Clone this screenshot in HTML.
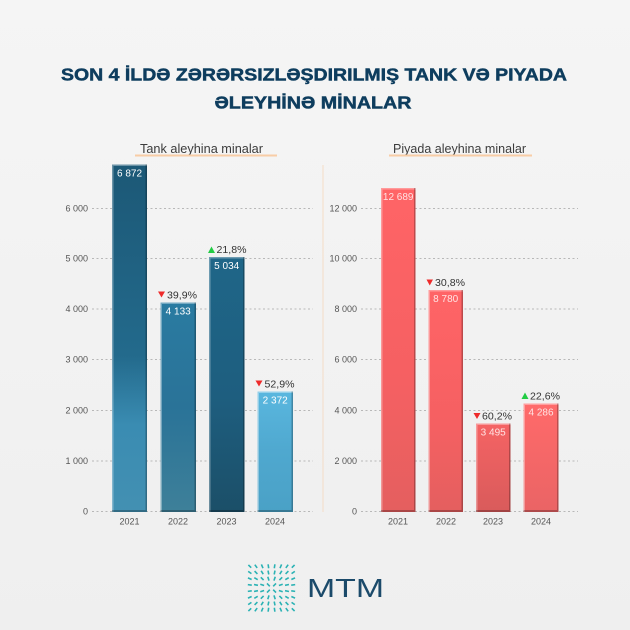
<!DOCTYPE html>
<html><head><meta charset="utf-8"><style>
html,body{margin:0;padding:0;background:#f2f2f2;}
svg{display:block;font-family:"Liberation Sans",sans-serif;}
</style></head><body>
<svg width="630" height="630" viewBox="0 0 630 630" xmlns="http://www.w3.org/2000/svg">
<defs>
<linearGradient id="bg" x1="0" y1="0" x2="0" y2="1"><stop offset="0" stop-color="#f5f5f5"/><stop offset="1" stop-color="#efefef"/></linearGradient>
<linearGradient id="b1" x1="0" y1="0" x2="0" y2="1"><stop offset="0" stop-color="#1c5876"/><stop offset="0.55" stop-color="#236a8c"/><stop offset="0.75" stop-color="#3a8cb2"/><stop offset="1" stop-color="#4390b2"/></linearGradient>
<linearGradient id="b2" x1="0" y1="0" x2="0" y2="1"><stop offset="0" stop-color="#2a7ba1"/><stop offset="0.5" stop-color="#2a7398"/><stop offset="1" stop-color="#3e8099"/></linearGradient>
<linearGradient id="b3" x1="0" y1="0" x2="0" y2="1"><stop offset="0" stop-color="#1f6688"/><stop offset="0.55" stop-color="#1e5e7f"/><stop offset="1" stop-color="#1b4f68"/></linearGradient>
<linearGradient id="b4" x1="0" y1="0" x2="0" y2="1"><stop offset="0" stop-color="#5ab7df"/><stop offset="0.5" stop-color="#4fa8cf"/><stop offset="1" stop-color="#4aa1c6"/></linearGradient>
<linearGradient id="r1" x1="0" y1="0" x2="0" y2="1"><stop offset="0" stop-color="#ff6466"/><stop offset="0.6" stop-color="#f56062"/><stop offset="1" stop-color="#e45f5f"/></linearGradient>
<linearGradient id="r3" x1="0" y1="0" x2="0" y2="1"><stop offset="0" stop-color="#f56364"/><stop offset="1" stop-color="#d95b5b"/></linearGradient>
<linearGradient id="r4" x1="0" y1="0" x2="0" y2="1"><stop offset="0" stop-color="#ff6a6a"/><stop offset="1" stop-color="#ea6465"/></linearGradient>
<g id="q" stroke="#2ab2b4" stroke-width="1.6" stroke-linecap="butt">
<line x1="1.69" y1="1.69" x2="4.51" y2="4.51"/>
<line x1="7.40" y1="2.47" x2="11.20" y2="3.73"/>
<line x1="13.54" y1="2.71" x2="17.46" y2="3.49"/>
<line x1="19.72" y1="2.82" x2="23.68" y2="3.38"/>
<line x1="2.47" y1="7.40" x2="3.73" y2="11.20"/>
<line x1="7.89" y1="7.89" x2="10.71" y2="10.71"/>
<line x1="13.79" y1="8.27" x2="17.21" y2="10.33"/>
<line x1="19.86" y1="8.51" x2="23.54" y2="10.09"/>
<line x1="2.71" y1="13.54" x2="3.49" y2="17.46"/>
<line x1="8.27" y1="13.79" x2="10.33" y2="17.21"/>
<line x1="14.09" y1="14.09" x2="16.91" y2="16.91"/>
<line x1="20.07" y1="14.34" x2="23.33" y2="16.66"/>
<line x1="2.82" y1="19.72" x2="3.38" y2="23.68"/>
<line x1="8.51" y1="19.86" x2="10.09" y2="23.54"/>
<line x1="14.34" y1="20.07" x2="16.66" y2="23.33"/>
<line x1="20.29" y1="20.29" x2="23.11" y2="23.11"/>
</g>
</defs>
<rect width="630" height="630" fill="url(#bg)"/>

<!-- Title -->
<g fill="#0e3d5e" stroke="#0e3d5e" stroke-width="0.5" font-weight="bold" font-size="17.5" text-anchor="middle">
<text x="314" y="80.5" textLength="506" lengthAdjust="spacingAndGlyphs">SON 4 İLDƏ ZƏRƏRSIZLƏŞDIRILMIŞ TANK VƏ PIYADA</text>
<text x="313" y="108.5" textLength="197" lengthAdjust="spacingAndGlyphs">ƏLEYHİNƏ MİNALAR</text>
</g>

<!-- Subtitles -->
<g fill="#3c3c3c" font-size="12.5">
<text x="140" y="153" textLength="123" lengthAdjust="spacingAndGlyphs">Tank aleyhina minalar</text>
<text x="393" y="153" textLength="133" lengthAdjust="spacingAndGlyphs">Piyada aleyhina minalar</text>
</g>
<rect x="135" y="154.5" width="142" height="2" fill="#f8cda6"/>
<rect x="389" y="154.5" width="143" height="2" fill="#f8cda6"/>

<!-- divider -->
<rect x="322.5" y="165" width="1" height="347" fill="#f4dcc6"/>

<!-- gridlines -->
<g stroke="#b8b8b8" stroke-width="1" stroke-dasharray="2 2.5">
<line x1="92" y1="208.5" x2="313" y2="208.5"/>
<line x1="92" y1="258.5" x2="313" y2="258.5"/>
<line x1="92" y1="309" x2="313" y2="309"/>
<line x1="92" y1="359.5" x2="313" y2="359.5"/>
<line x1="92" y1="410.5" x2="313" y2="410.5"/>
<line x1="92" y1="461" x2="313" y2="461"/>
<line x1="92" y1="511.5" x2="313" y2="511.5"/>
<line x1="361" y1="208.5" x2="578" y2="208.5"/>
<line x1="361" y1="258.5" x2="578" y2="258.5"/>
<line x1="361" y1="309" x2="578" y2="309"/>
<line x1="361" y1="359.5" x2="578" y2="359.5"/>
<line x1="361" y1="410.5" x2="578" y2="410.5"/>
<line x1="361" y1="461" x2="578" y2="461"/>
<line x1="361" y1="511.5" x2="578" y2="511.5"/>
</g>

<!-- axis labels -->
<g fill="#555" font-size="9" text-anchor="end">
<text x="88" y="211.5">6 000</text>
<text x="88" y="261.5">5 000</text>
<text x="88" y="312">4 000</text>
<text x="88" y="362.5">3 000</text>
<text x="88" y="413.5">2 000</text>
<text x="88" y="464">1 000</text>
<text x="88" y="514.5">0</text>
<text x="357" y="211.5">12 000</text>
<text x="357" y="261.5">10 000</text>
<text x="357" y="312">8 000</text>
<text x="357" y="362.5">6 000</text>
<text x="357" y="413.5">4 000</text>
<text x="357" y="464">2 000</text>
<text x="357" y="514.5">0</text>
</g>
<g fill="#555" font-size="9" text-anchor="middle">
<text x="129.5" y="524.5">2021</text>
<text x="178" y="524.5">2022</text>
<text x="226.5" y="524.5">2023</text>
<text x="275" y="524.5">2024</text>
<text x="398" y="524.5">2021</text>
<text x="446" y="524.5">2022</text>
<text x="493" y="524.5">2023</text>
<text x="541" y="524.5">2024</text>
</g>

<!-- left bars -->
<rect x="112" y="164.5" width="35" height="347.5" fill="url(#b1)"/>
<rect x="160.5" y="302.5" width="35.5" height="209.5" fill="url(#b2)"/>
<rect x="209" y="257" width="35.5" height="255" fill="url(#b3)"/>
<rect x="257.5" y="391.5" width="35.5" height="120.5" fill="url(#b4)"/>
<!-- right bars -->
<rect x="381" y="188" width="34.5" height="324" fill="url(#r1)"/>
<rect x="428.5" y="290" width="34.5" height="222" fill="url(#r1)"/>
<rect x="476" y="423.5" width="34.5" height="88.5" fill="url(#r3)"/>
<rect x="523.5" y="403.5" width="35" height="108.5" fill="url(#r4)"/>

<!-- bevels -->
<g fill="#ffffff" opacity="0.35">
<rect x="112" y="164.5" width="1.5" height="347.5"/><rect x="112" y="164.5" width="35" height="1.5"/>
<rect x="160.5" y="302.5" width="1.5" height="209.5"/><rect x="160.5" y="302.5" width="35.5" height="1.5"/>
<rect x="209" y="257" width="1.5" height="255"/><rect x="209" y="257" width="35.5" height="1.5"/>
<rect x="257.5" y="391.5" width="1.5" height="120.5"/><rect x="257.5" y="391.5" width="35.5" height="1.5"/>
<rect x="381" y="188" width="1.5" height="324"/><rect x="381" y="188" width="34.5" height="1.5"/>
<rect x="428.5" y="290" width="1.5" height="222"/><rect x="428.5" y="290" width="34.5" height="1.5"/>
<rect x="476" y="423.5" width="1.5" height="88.5"/><rect x="476" y="423.5" width="34.5" height="1.5"/>
<rect x="523.5" y="403.5" width="1.5" height="108.5"/><rect x="523.5" y="403.5" width="35" height="1.5"/>
</g>
<g fill="#000" opacity="0.25">
<rect x="145.5" y="164.5" width="1.5" height="347.5"/><rect x="112" y="510" width="35" height="2"/>
<rect x="194.5" y="302.5" width="1.5" height="209.5"/><rect x="160.5" y="510" width="35.5" height="2"/>
<rect x="243" y="257" width="1.5" height="255"/><rect x="209" y="510" width="35.5" height="2"/>
<rect x="291.5" y="391.5" width="1.5" height="120.5"/><rect x="257.5" y="510" width="35.5" height="2"/>
<rect x="414" y="188" width="1.5" height="324"/><rect x="381" y="510" width="34.5" height="2"/>
<rect x="461.5" y="290" width="1.5" height="222"/><rect x="428.5" y="510" width="34.5" height="2"/>
<rect x="509" y="423.5" width="1.5" height="88.5"/><rect x="476" y="510" width="34.5" height="2"/>
<rect x="557" y="403.5" width="1.5" height="108.5"/><rect x="523.5" y="510" width="35" height="2"/>
</g>

<!-- value labels -->
<g fill="#ffffff" font-size="10" text-anchor="middle">
<text x="129.5" y="176.5">6 872</text>
<text x="178.2" y="314.5">4 133</text>
<text x="226.7" y="269">5 034</text>
<text x="275.2" y="403.5">2 372</text>
</g>
<g fill="#ffe3e3" font-size="10" text-anchor="middle">
<text x="398.2" y="200">12 689</text>
<text x="445.7" y="302">8 780</text>
<text x="493.2" y="435.5">3 495</text>
<text x="541" y="415.5">4 286</text>
</g>

<!-- percent labels -->
<g fill="#333" font-size="10.5">
<text x="167" y="298.5" textLength="30" lengthAdjust="spacingAndGlyphs">39,9%</text>
<text x="216.5" y="253" textLength="30" lengthAdjust="spacingAndGlyphs">21,8%</text>
<text x="264.5" y="387.5" textLength="30" lengthAdjust="spacingAndGlyphs">52,9%</text>
<text x="435" y="286" textLength="30" lengthAdjust="spacingAndGlyphs">30,8%</text>
<text x="482" y="419.5" textLength="30" lengthAdjust="spacingAndGlyphs">60,2%</text>
<text x="530" y="399.5" textLength="30" lengthAdjust="spacingAndGlyphs">22,6%</text>
</g>
<g fill="#ee2b2b">
<polygon points="158,291.5 165,291.5 161.5,297.5"/>
<polygon points="255.5,380.5 262.5,380.5 259,386.5"/>
<polygon points="426.5,279.5 433,279.5 429.75,285.5"/>
<polygon points="473.5,413 480.5,413 477,419"/>
</g>
<g fill="#22cc44">
<polygon points="208,253 215,253 211.5,246.5"/>
<polygon points="521.5,399 528.5,399 525,392.5"/>
</g>

<!-- logo -->
<g transform="translate(271.5,588)">
<use href="#q"/>
<use href="#q" transform="scale(-1,1)"/>
<use href="#q" transform="scale(1,-1)"/>
<use href="#q" transform="scale(-1,-1)"/>
</g>
<text x="307" y="597" fill="#1b4a6a" font-size="26" textLength="77" lengthAdjust="spacingAndGlyphs">MTM</text>
</svg>
</body></html>
